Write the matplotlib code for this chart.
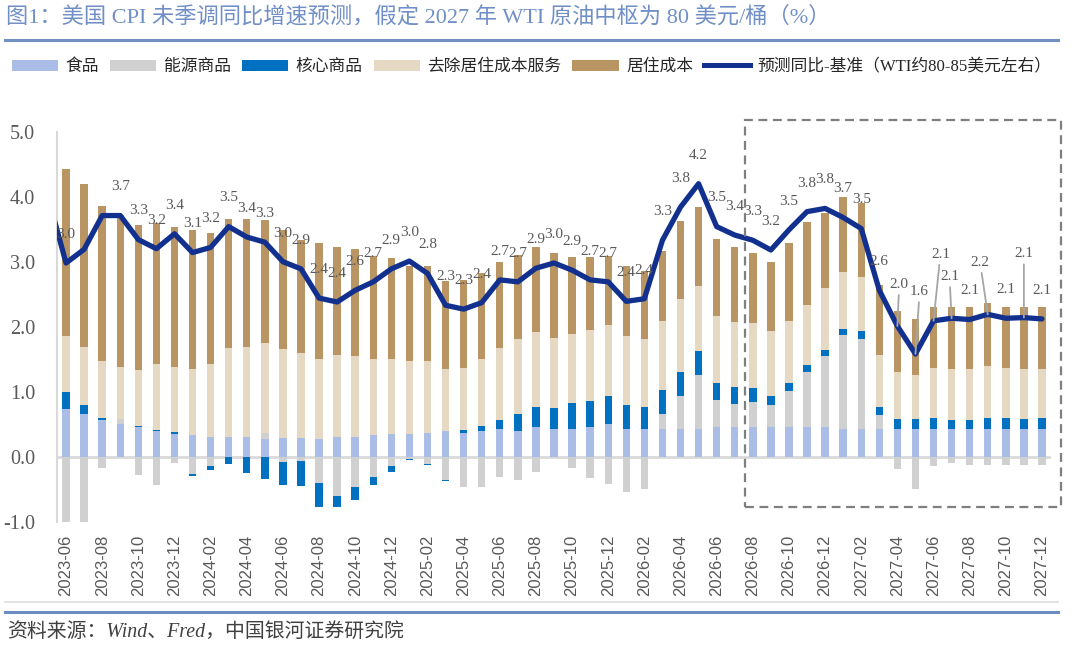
import matplotlib
matplotlib.use("Agg")
import matplotlib.pyplot as plt
import numpy as np
import pandas as pd
from matplotlib.lines import Line2D
from matplotlib.patches import Patch, Rectangle

# ---------------- data ----------------
months = [p.strftime("%Y-%m") for p in pd.period_range("2023-06", "2027-12", freq="M")]

food = [0.74, 0.65, 0.57, 0.50, 0.46, 0.39, 0.35, 0.33, 0.30, 0.30,
        0.30, 0.27, 0.29, 0.29, 0.27, 0.31, 0.30, 0.33, 0.35, 0.35,
        0.36, 0.39, 0.37, 0.40, 0.42, 0.40, 0.45, 0.43, 0.43, 0.45,
        0.51, 0.42, 0.42, 0.43, 0.43, 0.43, 0.45, 0.45, 0.45, 0.45,
        0.45, 0.45, 0.45, 0.43, 0.43, 0.43, 0.43, 0.43, 0.43, 0.43,
        0.43, 0.43, 0.43, 0.43, 0.43]
energy = [-1.02, -1.02, -0.18, 0.08, -0.28, -0.43, -0.10, -0.26, -0.15, 0.00,
          0.00, 0.09, -0.08, -0.07, -0.40, -0.60, -0.46, -0.31, -0.14, -0.03,
          -0.11, -0.36, -0.46, -0.46, -0.31, -0.36, -0.24, 0.00, -0.17, -0.33,
          -0.42, -0.55, -0.50, 0.22, 0.50, 0.83, 0.42, 0.36, 0.39, 0.35,
          0.56, 0.85, 1.10, 1.45, 1.38, 0.21, -0.19, -0.50, -0.15, -0.10,
          -0.13, -0.13, -0.13, -0.13, -0.13]
core = [0.26, 0.14, 0.03, 0.00, 0.01, 0.02, 0.03, -0.04, -0.05, -0.11,
        -0.25, -0.35, -0.36, -0.38, -0.38, -0.18, -0.21, -0.12, -0.10, -0.02,
        -0.02, -0.01, 0.04, 0.08, 0.15, 0.25, 0.31, 0.32, 0.39, 0.41,
        0.43, 0.37, 0.34, 0.37, 0.37, 0.36, 0.27, 0.27, 0.22, 0.14,
        0.13, 0.11, 0.09, 0.09, 0.12, 0.12, 0.15, 0.15, 0.16, 0.13,
        0.14, 0.16, 0.16, 0.15, 0.17]
services = [0.86, 0.89, 0.87, 0.80, 0.87, 1.01, 1.00, 1.02, 1.12, 1.37,
            1.39, 1.39, 1.36, 1.31, 1.23, 1.25, 1.25, 1.17, 1.15, 1.13,
            1.11, 0.96, 0.96, 1.02, 1.10, 1.16, 1.16, 1.08, 1.06, 1.09,
            1.08, 1.07, 1.05, 1.06, 1.13, 1.00, 1.02, 0.99, 0.99, 0.99,
            0.95, 0.93, 0.95, 0.87, 0.84, 0.80, 0.73, 0.67, 0.78, 0.79,
            0.78, 0.80, 0.77, 0.77, 0.75]
shelter = [2.57, 2.51, 2.39, 2.34, 2.22, 2.17, 2.16, 2.13, 2.02, 1.99,
           1.96, 1.89, 1.84, 1.74, 1.78, 1.66, 1.64, 1.58, 1.56, 1.45,
           1.47, 1.36, 1.35, 1.32, 1.32, 1.29, 1.30, 1.30, 1.19, 1.12,
           1.07, 1.08, 1.04, 1.08, 1.19, 1.22, 1.19, 1.15, 1.08, 1.07,
           1.19, 1.27, 1.16, 1.15, 1.14, 1.08, 0.93, 0.87, 0.93, 0.96,
           0.96, 0.98, 0.94, 0.96, 0.95]
forecast = [2.98, 3.19, 3.71, 3.71, 3.34, 3.20, 3.43, 3.14, 3.22, 3.54,
            3.38, 3.30, 3.00, 2.89, 2.44, 2.38, 2.56, 2.69, 2.89, 3.01,
            2.82, 2.33, 2.27, 2.37, 2.72, 2.69, 2.90, 2.98, 2.87, 2.72,
            2.69, 2.39, 2.43, 3.33, 3.84, 4.20, 3.54, 3.41, 3.33, 3.18,
            3.49, 3.77, 3.82, 3.68, 3.51, 2.56, 2.01, 1.58, 2.09, 2.13,
            2.11, 2.19, 2.13, 2.14, 2.12]
forecast_prev = 4.0  # 2023-05, line enters from the left edge

series_names = ["食品", "能源商品", "核心商品", "去除居住成本服务", "居住成本"]
line_name = "预测同比-基准（WTI约80-85美元左右）"
title = "图1：美国 CPI 未季调同比增速预测，假定 2027 年 WTI 原油中枢为 80 美元/桶（%）"
source = "资料来源：Wind、Fred，中国银河证券研究院"

# ---------------- style ----------------
colors = ["#a9bde6", "#d0d0d0", "#0070c0", "#e6d9c4", "#b99563"]
line_color = "#12318f"
gray_txt = "#595959"
title_blue = "#6f8fc6"
serif_cjk = ["Liberation Serif", "Noto Sans CJK SC"]
plt.rcParams["font.family"] = ["Liberation Serif", "Noto Sans CJK SC", "DejaVu Sans"]

W, H = 1080, 645
fig = plt.figure(figsize=(W / 100, H / 100), dpi=100)
ax_l, ax_r, ax_t, ax_b = 57, 1051, 131.7, 521.7
ax = fig.add_axes([ax_l / W, 1 - ax_b / H, (ax_r - ax_l) / W, (ax_b - ax_t) / H])

x = np.arange(len(months))
pos = np.zeros(len(months))
neg = np.zeros(len(months))
for vals, c in zip([food, energy, core, services, shelter], colors):
    v = np.array(vals)
    bottom = np.where(v >= 0, pos, neg)
    ax.bar(x, v, bottom=bottom, width=0.41, color=c, zorder=2, linewidth=0)
    pos = pos + np.where(v >= 0, v, 0)
    neg = neg + np.where(v < 0, v, 0)

ax.axhline(0, color="#d9d9d9", lw=2.0, zorder=1)

lx = np.concatenate([[-1], x])
ly = np.concatenate([[forecast_prev], forecast])
ax.plot(lx, ly, color=line_color, lw=3.8, zorder=4, solid_joinstyle="round",
        solid_capstyle="round")

# data labels
skip = {1, 2}
offsets = {46: (1.3, 30), 47: (3, 45), 48: (5, 48), 49: (-1.5, 30),
           51: (-5.5, 37.5), 53: (0, 46)}
for i, v in enumerate(forecast):
    if i in skip:
        continue
    if i in offsets:
        ax.annotate(f"{v:.1f}", (i, v), xytext=offsets[i], textcoords="offset points",
                    ha="center", va="center", fontsize=11, color=gray_txt, zorder=5,
                    arrowprops=dict(arrowstyle="-", color="#a6a6a6", lw=1.3,
                                    shrinkA=1, shrinkB=0))
    else:
        ax.annotate(f"{v:.1f}", (i, v), xytext=(0, 20.6), textcoords="offset points",
                    ha="center", va="center", fontsize=11, color=gray_txt, zorder=5)

ax.set_xlim(-0.5, len(months) - 0.5)
ax.set_ylim(-1, 5)
ax.set_yticks(np.arange(-1, 5.01, 1))
ax.set_yticklabels([f"{t:.1f}" for t in np.arange(-1, 5.01, 1)])
ax.set_xticks(x[::2])
ax.set_xticklabels(months[::2], rotation=90, fontsize=12, color=gray_txt,
                   family="Liberation Sans")
ax.tick_params(axis="x", length=0, pad=9.5)
ax.tick_params(axis="y", length=0, pad=15.8, labelsize=14.5, labelcolor=gray_txt)
for s in ["top", "right", "bottom"]:
    ax.spines[s].set_visible(False)
ax.spines["left"].set_color("#d9d9d9")
ax.spines["left"].set_linewidth(1.5)

# dashed highlight box
box = Rectangle((37.55, -0.77), 55.04 - 37.55, 5.18 + 0.77, fill=False,
                ec="#7f7f7f", lw=1.6, ls=(0, (4, 2.5)), clip_on=False, zorder=6)
ax.add_patch(box)

# legend
handles = [Patch(facecolor=c, edgecolor="none") for c in colors]
handles.append(Line2D([0], [0], color=line_color, lw=3.6))
fig.legend(handles, series_names + [line_name], loc="center left",
           bbox_to_anchor=(12 / W, 1 - 67 / H), ncol=6, frameon=False,
           handlelength=2.75, handleheight=0.62,
           handletextpad=0.45, columnspacing=0.65, borderaxespad=0,
           borderpad=0, prop={"family": serif_cjk, "size": 12.1},
           labelcolor="#262626")

# title and rules
fig.text(6 / W, 1 - 17 / H, title, fontsize=16, color=title_blue, va="center",
         ha="left", family=serif_cjk)
fig.add_artist(Line2D([5 / W, 1058 / W], [1 - 40 / H] * 2, color="#7191c4",
                      lw=2.2, transform=fig.transFigure))
fig.add_artist(Line2D([5 / W, 1058 / W], [1 - 602 / H] * 2, color="#e3e3e3",
                      lw=1.4, transform=fig.transFigure))
fig.add_artist(Line2D([5 / W, 1058 / W], [1 - 611.5 / H] * 2, color="#6c8dc2",
                      lw=2.2, transform=fig.transFigure))
fig.text(7 / W, 1 - 632 / H, source, fontsize=14.3, color="#404040", va="center",
         ha="left", family=serif_cjk, style="italic")

fig.savefig("out.png", dpi=100)
